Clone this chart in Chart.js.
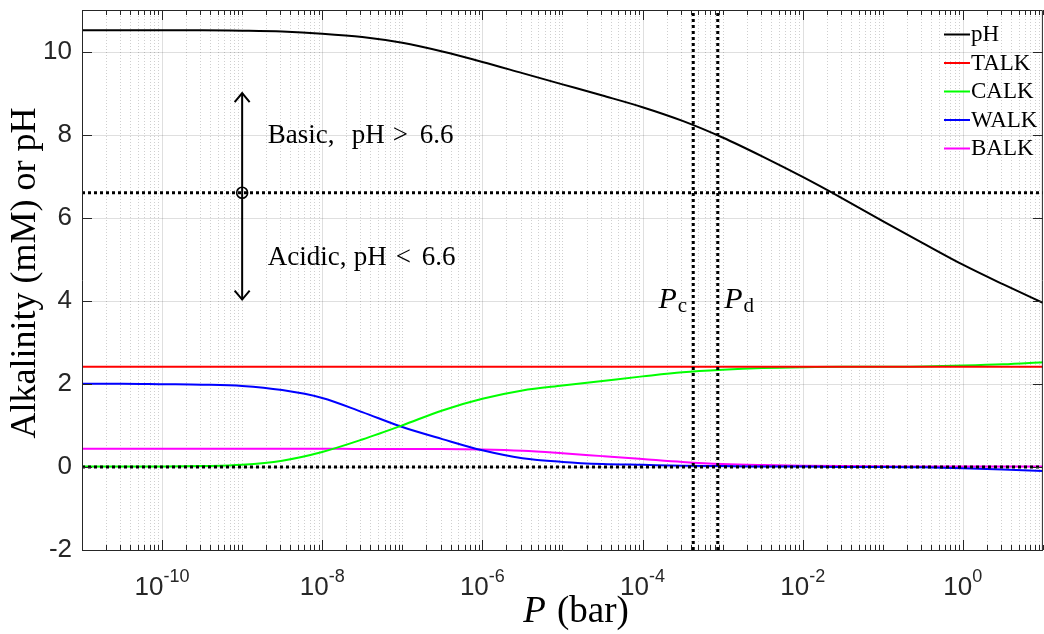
<!DOCTYPE html>
<html><head><meta charset="utf-8">
<script src="https://cdn.jsdelivr.net/npm/chart.js@4.4.1/dist/chart.umd.min.js"></script>
<style>
html,body{margin:0;padding:0;overflow:hidden;background:#fff;width:1044px;height:634px}
#wrap{position:relative;width:1050px;height:634px}
canvas{display:block}
</style></head><body>
<div id="wrap"><canvas id="c" width="1050" height="634"></canvas></div>
<script>
// ---- data ----
const logP = [-11,-10.5,-10,-9.5,-9,-8.5,-8,-7.5,-7,-6.5,-6,-5.5,-5,-4.5,-4,-3.5,-3,-2.5,-2,-1.5,-1,-0.5,0,0.5,1];
const pH   = [10.51,10.51,10.51,10.51,10.50,10.48,10.43,10.35,10.21,10.00,9.75,9.48,9.21,8.94,8.66,8.33,7.93,7.47,6.98,6.46,5.92,5.39,4.87,4.40,3.95];
const TALK = [2.41,2.41,2.41,2.41,2.41,2.41,2.41,2.41,2.41,2.41,2.41,2.41,2.41,2.41,2.41,2.41,2.41,2.41,2.41,2.41,2.41,2.41,2.41,2.41,2.41];
const CALK = [0.01,0.01,0.01,0.02,0.05,0.15,0.36,0.66,1.00,1.36,1.64,1.84,1.96,2.07,2.18,2.28,2.34,2.38,2.40,2.41,2.41,2.42,2.44,2.47,2.52];
const WALK = [2.00,2.00,1.99,1.98,1.95,1.85,1.66,1.32,0.96,0.67,0.40,0.21,0.12,0.07,0.05,0.03,0.02,0.01,0.01,0.00,0.00,-0.01,-0.03,-0.06,-0.10];
const BALK = [0.44,0.44,0.44,0.44,0.44,0.44,0.44,0.43,0.43,0.43,0.42,0.39,0.33,0.26,0.19,0.12,0.07,0.045,0.03,0.02,0.015,0.01,0.01,0.01,0.01];
const seriesNames = ['pH','TALK','CALK','WALK','BALK'];
const pHThreshold = 6.6;
const Pc = 4.3e-4;
const Pd = 8.7e-4;
const arrowP = 1e-9;
const arrowRange = [4.03, 9.0];
const xMin = 1e-11, xMax = 10;
const yMin = -2, yMax = 11;
const yTicks = [-2,0,2,4,6,8,10];
const xLabelExps = [-10,-8,-6,-4,-2,0];

// ---- styles ----
const colors = {pH:'#000000', TALK:'#ff0000', CALK:'#00ff00', WALK:'#0000ff', BALK:'#ff00ff'};
const seriesData = {pH, TALK, CALK, WALK, BALK};
const AX = '#262626';
const SANS = '"Liberation Sans", Arial, Helvetica, sans-serif';
const SERIF = '"Liberation Serif", "Times New Roman", serif';

const P = logP.map(e => Math.pow(10, e));
const toXY = arr => arr.map((v,i) => ({x: P[i], y: v}));

const curveSets = seriesNames.map(n => ({
  label: n, data: toXY(seriesData[n]), borderColor: colors[n], backgroundColor: colors[n],
  borderWidth: 2, pointRadius: 0, fill: false, cubicInterpolationMode: 'monotone', order: 2, inLegend: true
}));
const dotted = (pts) => ({ data: pts, borderColor:'#000', borderWidth: 3, borderDash:[3,3],
  pointRadius:0, fill:false, order:1, inLegend:false });
const refSets = [
  dotted([{x:xMin,y:pHThreshold},{x:xMax,y:pHThreshold}]),
  dotted([{x:xMin,y:0},{x:xMax,y:0}]),
  dotted([{x:Pc,y:yMin},{x:Pc,y:yMax}]),
  dotted([{x:Pd,y:yMin},{x:Pd,y:yMax}]),
  { data:[{x:arrowP,y:arrowRange[0]},{x:arrowP,y:arrowRange[1]}], borderColor:'#000', borderWidth:2,
    pointRadius:0, fill:false, order:1, inLegend:false },
  { data:[{x:arrowP,y:pHThreshold}], showLine:false, pointRadius:5.5, pointBorderWidth:1.6,
    pointBorderColor:'#000', pointBackgroundColor:'rgba(0,0,0,0)', order:0, inLegend:false }
];

const decor = {
  id:'decor',
  beforeDatasetsDraw(chart){
    const {ctx, chartArea:a, scales:{x,y}} = chart;
    ctx.save();
    ctx.beginPath(); ctx.rect(a.left,a.top,a.right-a.left,a.bottom-a.top); ctx.clip();
    for (let e=-11; e<=1; e++) for (let m=1; m<=9; m++){
      const v = m*Math.pow(10,e); if (v<xMin*0.999 || v>xMax*1.001) continue;
      const px = Math.round(x.getPixelForValue(v))+0.5;
      const major = (m===1 && xLabelExps.includes(e));
      ctx.beginPath();
      if (major){ ctx.setLineDash([]); ctx.strokeStyle='rgba(38,38,38,0.15)'; ctx.lineWidth=1; }
      else { ctx.setLineDash([1,2]); ctx.strokeStyle='rgba(38,38,38,0.22)'; ctx.lineWidth=1; }
      ctx.moveTo(px,a.top); ctx.lineTo(px,a.bottom); ctx.stroke();
    }
    ctx.setLineDash([]);
    ctx.strokeStyle='rgba(38,38,38,0.15)'; ctx.lineWidth=1;
    yTicks.forEach(v=>{ const py=Math.round(y.getPixelForValue(v))+0.5;
      ctx.beginPath(); ctx.moveTo(a.left,py); ctx.lineTo(a.right,py); ctx.stroke(); });
    ctx.restore();
  },
  afterDatasetsDraw(chart){
    const {ctx, chartArea:a, scales:{x,y}} = chart;
    ctx.save();
    ctx.strokeStyle=AX; ctx.lineWidth=1; ctx.setLineDash([]);
    ctx.beginPath();
    ctx.moveTo(a.left+0.5,a.top+0.5); ctx.lineTo(a.right-0.5,a.top+0.5); ctx.lineTo(a.right-0.5,a.bottom+0.5);
    ctx.lineTo(a.left+0.5,a.bottom+0.5); ctx.closePath(); ctx.stroke();
    for (let e=-11; e<=1; e++) for (let m=1; m<=9; m++){
      const v = m*Math.pow(10,e); if (v<xMin*0.999 || v>xMax*1.001) continue;
      const px = Math.round(x.getPixelForValue(v))+0.5;
      const len = (m===1 && xLabelExps.includes(e)) ? 10 : 5;
      ctx.beginPath(); ctx.moveTo(px,a.bottom); ctx.lineTo(px,a.bottom-len);
      ctx.moveTo(px,a.top); ctx.lineTo(px,a.top+len); ctx.stroke();
    }
    yTicks.forEach(v=>{ const py=Math.round(y.getPixelForValue(v))+0.5;
      ctx.beginPath(); ctx.moveTo(a.left,py); ctx.lineTo(a.left+10,py);
      ctx.moveTo(a.right,py); ctx.lineTo(a.right-10,py); ctx.stroke(); });
    // x tick labels 10^n
    ctx.fillStyle=AX; ctx.textBaseline='alphabetic'; ctx.textAlign='left';
    xLabelExps.forEach(e=>{
      const px = x.getPixelForValue(Math.pow(10,e));
      ctx.font='26px '+SANS; const w1=ctx.measureText('10').width;
      const es=String(e); ctx.font='18px '+SANS; const w2=ctx.measureText(es).width;
      const sx = px-(w1+w2)/2;
      ctx.font='26px '+SANS; ctx.fillText('10',sx,595);
      ctx.font='18px '+SANS; ctx.fillText(es,sx+w1,582);
    });
    // axis titles
    ctx.fillStyle='#000';
    ctx.save(); ctx.translate(35,273); ctx.rotate(-Math.PI/2);
    ctx.font='36px '+SERIF; ctx.textAlign='center'; ctx.fillText('Alkalinity (mM) or pH',0,0); ctx.restore();
    {
      ctx.font='italic 37px '+SERIF; const wP=ctx.measureText('P').width;
      ctx.font='37px '+SERIF; const wR=ctx.measureText(' (bar)').width;
      const cx=575, sx=cx-(wP+wR)/2;
      ctx.textAlign='left';
      ctx.font='italic 37px '+SERIF; ctx.fillText('P',sx,622);
      ctx.font='37px '+SERIF; ctx.fillText(' (bar)',sx+wP+2,622);
    }
    // arrowheads
    const ax = x.getPixelForValue(arrowP);
    const yTop = y.getPixelForValue(arrowRange[1]), yBot = y.getPixelForValue(arrowRange[0]);
    ctx.strokeStyle='#000'; ctx.lineWidth=2;
    ctx.beginPath(); ctx.moveTo(ax-7.5,yTop+9); ctx.lineTo(ax,yTop); ctx.lineTo(ax+7.5,yTop+9);
    ctx.moveTo(ax-7.5,yBot-9); ctx.lineTo(ax,yBot); ctx.lineTo(ax+7.5,yBot-9); ctx.stroke();
    // annotations (pieces placed like LaTeX math spacing)
    ctx.fillStyle='#000'; ctx.textAlign='left'; ctx.textBaseline='alphabetic';
    ctx.font='27px '+SERIF;
    const tx = x.getPixelForValue(Math.pow(10,-8.68));
    const yb1 = y.getPixelForValue(8.0)+8, yb2 = y.getPixelForValue(5.05)+8;
    ctx.fillText('Basic,', tx, yb1);
    ctx.fillText('pH', tx+84, yb1); ctx.fillText('>', tx+125, yb1); ctx.fillText('6.6', tx+152, yb1);
    ctx.fillText('Acidic,', tx, yb2);
    ctx.fillText('pH', tx+86, yb2); ctx.fillText('<', tx+128, yb2); ctx.fillText('6.6', tx+154, yb2);
    const sub = (main, s, px, py)=>{
      ctx.font='italic 30px '+SERIF; ctx.fillText(main,px,py); const w=ctx.measureText(main).width;
      ctx.font='21px '+SERIF; ctx.fillText(s,px+w+1,py+4);
    };
    sub('P','c', x.getPixelForValue(Math.pow(10,-3.80)), 308);
    sub('P','d', x.getPixelForValue(Math.pow(10,-2.98)), 308);
    // legend
    ctx.textBaseline='middle'; ctx.font='23px '+SERIF;
    chart.data.datasets.filter(d=>d.inLegend).forEach((d,i)=>{
      const ly = 34 + i*28.5;
      ctx.strokeStyle=d.borderColor; ctx.lineWidth=2;
      ctx.beginPath(); ctx.moveTo(944,ly+0.5); ctx.lineTo(970,ly+0.5); ctx.stroke();
      ctx.fillStyle='#000'; ctx.fillText(d.label,971,ly+1);
    });
    ctx.restore();
  }
};

new Chart(document.getElementById('c'), {
  type:'line',
  data:{ datasets:[...curveSets, ...refSets] },
  options:{
    responsive:false, animation:false, events:[],
    layout:{ padding:{top:10,right:1,left:0,bottom:0} },
    plugins:{ legend:{display:false}, tooltip:{enabled:false} },
    scales:{
      x:{ type:'logarithmic', min:xMin, max:xMax,
          grid:{display:false, drawTicks:false}, border:{display:false},
          ticks:{display:false},
          afterFit:s=>{ s.height=84; s.paddingLeft=0; s.paddingRight=0; s.paddingTop=0; s.paddingBottom=0; } },
      y:{ type:'linear', min:yMin, max:yMax,
          grid:{display:false, drawTicks:false}, border:{display:false},
          afterBuildTicks:s=>{ s.ticks = yTicks.map(v=>({value:v})); },
          ticks:{ font:{family:'Liberation Sans', size:26}, color:AX, padding:10 },
          afterFit:s=>{ s.width=82; s.paddingTop=0; s.paddingBottom=0; s.paddingLeft=0; s.paddingRight=0; } }
    }
  },
  plugins:[decor]
});
</script>
</body></html>
